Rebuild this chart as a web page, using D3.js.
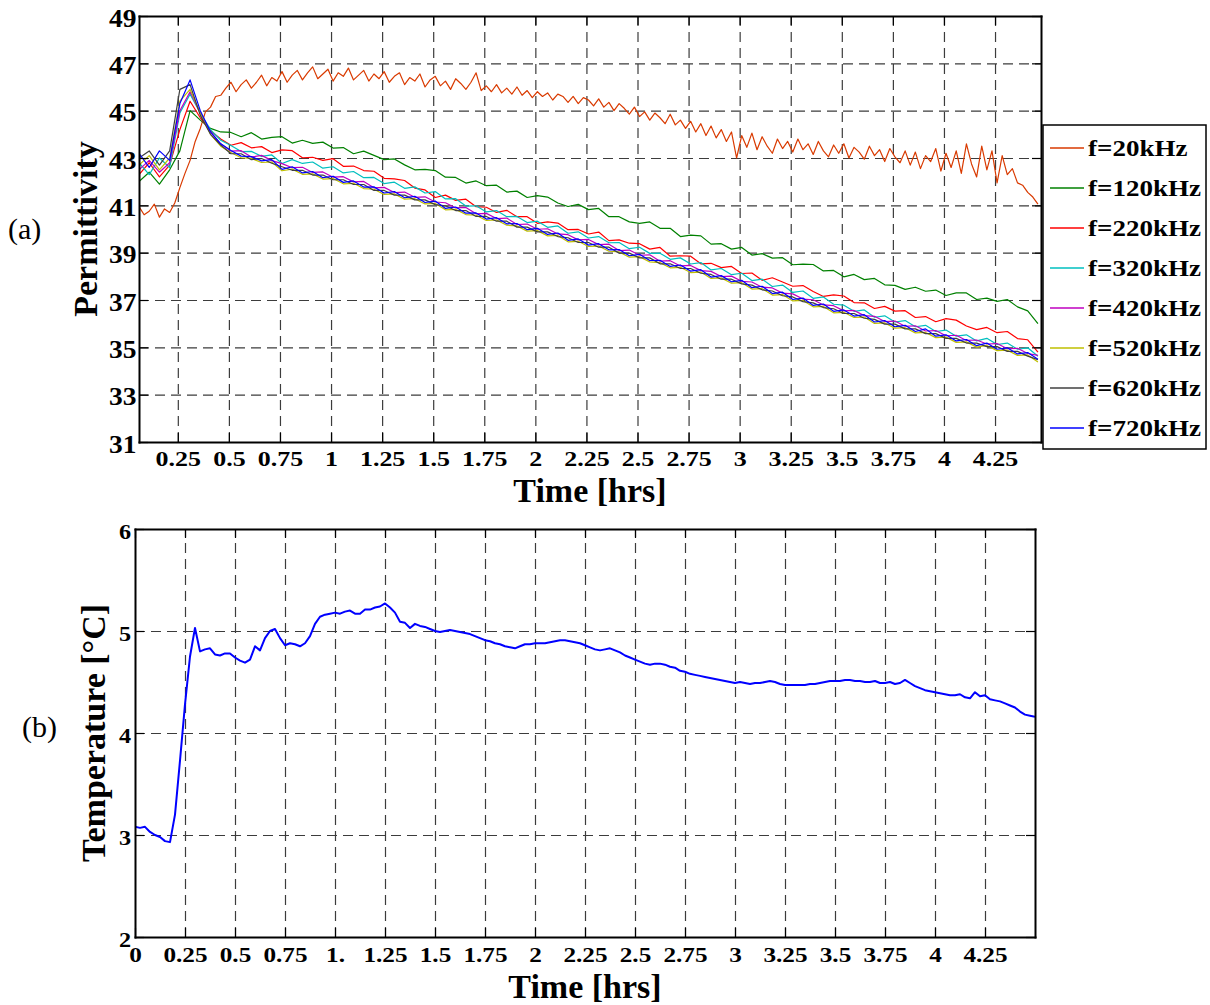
<!DOCTYPE html>
<html>
<head>
<meta charset="utf-8">
<script src="https://cdn.jsdelivr.net/npm/d3@7"></script>
<style>
  body { margin: 0; background: #fff; }
  svg { display: block; font-family: "Liberation Serif", "Times New Roman", serif; }
  .axis path { stroke: #000; stroke-width: 2; stroke-linecap: square; }
  .axis line { stroke: #000; stroke-width: 1.2; }
  .axis text { font-family: "Liberation Serif", serif; font-weight: bold; fill: #000; }
  .grid line { stroke: #3c3c3c; stroke-width: 1.2; stroke-dasharray: 10 6; }
  .grid path { display: none; }
  .title { font-weight: bold; font-size: 34px; }
  .panel-tag { font-size: 30px; }
</style>
</head>
<body>
<svg id="chart" width="1210" height="1005"></svg>
<script>
// ---------- (a) permittivity, one sample every 0.05 h from 0.06 h (20 kHz: every 0.025 h)
const permStart = 0.06;
const permStep = 0.05;
const permStep20 = 0.025;

const freqLabels = ["f=20kHz", "f=120kHz", "f=220kHz", "f=320kHz", "f=420kHz", "f=520kHz", "f=620kHz", "f=720kHz"];
const freqColors = ["#d93a00", "#008000", "#ff0000", "#00bfbf", "#bf00bf", "#bfbf00", "#404040", "#0000ff"];

const perm20 = [
  40.95, 40.6, 40.75, 41.05, 40.5, 40.85, 40.7, 41.1,
  41.75, 42.35, 42.9, 43.7, 44.25, 44.95, 45.15, 45.6, 45.65, 45.95,
  46.2, 45.8, 46.1, 46.3, 45.95, 46.2, 46.5, 46.05, 46.4, 46.25, 46.65, 46.2, 46.5, 46.7,
  46.3, 46.6, 46.85, 46.35, 46.55, 46.75, 46.25, 46.6, 46.45, 46.8, 46.3, 46.5, 46.7, 46.25, 46.55, 46.35,
  46.65, 46.2, 46.45, 46.6, 46.1, 46.4, 46.25, 46.55, 46.0, 46.3, 46.45, 46.05, 46.25, 45.9, 46.35, 46.15,
  45.9, 46.2, 46.6, 45.85, 46.05, 45.8, 46.1, 45.75, 45.95, 45.7, 46.0, 45.65, 45.85, 45.55, 45.8, 45.6,
  45.75, 45.45, 45.7, 45.6, 45.35, 45.6, 45.3, 45.55, 45.45, 45.2, 45.5, 45.15, 45.35, 45.0, 45.3, 45.1,
  44.85, 45.15, 44.75, 44.95, 44.6, 44.9, 44.7, 44.45, 44.85, 44.4, 44.6, 44.25, 44.55, 44.1, 44.45, 43.95,
  44.35, 43.85, 44.2, 43.7, 44.1, 43.0, 43.95, 43.45, 44.05, 43.35, 43.9, 43.5, 43.2, 43.8, 43.4, 43.7,
  43.25, 43.8, 43.35, 43.6, 43.15, 43.7, 43.3, 43.05, 43.55, 43.2, 43.6, 43.0, 43.45, 43.25, 42.95, 43.5,
  43.1, 43.35, 42.85, 43.4, 43.05, 42.8,
  43.3, 42.7, 43.25, 42.55, 43.1, 42.85, 43.4, 42.45, 43.2, 42.6, 43.3, 42.35, 43.6, 42.75, 42.2, 43.5,
  42.5, 43.3, 41.95, 43.1,
  42.3, 42.55, 41.95, 41.85, 41.55, 41.35, 41.05
];

const perm120 = [
  42.0, 42.4, 41.9, 42.5, 43.3, 45.0, 44.6, 44.25, 44.1,
  44.08, 43.90, 44.07, 43.80, 43.87, 43.90, 43.63, 43.75, 43.62, 43.67,
  43.42, 43.44, 43.18, 43.29, 43.11, 42.93, 42.96, 42.71, 42.50, 42.52,
  42.47, 42.19, 42.18, 41.94, 42.03, 41.83, 41.85, 41.56, 41.60, 41.33,
  41.41, 41.35, 41.10, 40.95, 41.04, 40.82, 40.87, 40.52, 40.52, 40.30,
  40.24, 40.30, 40.03, 40.03, 39.68, 39.74, 39.71, 39.36, 39.38, 39.15,
  39.22, 38.90, 38.96, 38.77, 38.79, 38.49, 38.52, 38.50, 38.23, 38.25,
  37.98, 38.08, 37.86, 37.91, 37.64, 37.62, 37.45, 37.54, 37.37, 37.42,
  37.19, 37.30, 37.30, 37.02, 37.08, 36.94, 37.02, 36.71, 36.54, 36.0
];

const perm220 = [
  42.3, 42.8, 42.2, 42.7, 44.2, 45.4, 44.7, 44.15, 43.8,
  43.54, 43.65, 43.43, 43.48, 43.23, 43.34, 43.31, 43.01, 43.03, 42.90,
  42.97, 42.65, 42.66, 42.47, 42.44, 42.14, 42.12, 42.05, 41.73, 41.65,
  41.33, 41.43, 41.21, 41.26, 40.94, 40.92, 40.70, 40.79, 40.52, 40.52,
  40.24, 40.30, 40.25, 39.97, 39.98, 39.79, 39.87, 39.51, 39.54, 39.40,
  39.38, 39.15, 39.22, 38.85, 38.87, 38.85, 38.53, 38.55, 38.37, 38.42,
  38.12, 38.14, 37.83, 37.94, 37.76, 37.58, 37.61, 37.36, 37.15, 37.22,
  37.17, 36.89, 36.88, 36.64, 36.73, 36.53, 36.55, 36.26, 36.30, 36.08,
  36.21, 36.15, 35.90, 35.75, 35.84, 35.62, 35.67, 35.37, 35.32, 34.8
];

const perm320 = [
  42.8, 42.3, 43.0, 42.6, 44.9, 45.7, 44.9, 44.2, 43.75,
  43.53, 43.27, 43.28, 43.07, 43.13, 42.77, 42.93, 42.77, 42.83, 42.57,
  42.63, 42.37, 42.43, 42.17, 42.18, 41.92, 41.98, 41.72, 41.78, 41.52,
  41.58, 41.27, 41.28, 40.97, 40.98, 40.72, 40.78, 40.52, 40.53, 40.27,
  40.33, 40.07, 40.13, 39.82, 39.88, 39.62, 39.68, 39.42, 39.43, 39.17,
  39.23, 38.97, 38.98, 38.72, 38.78, 38.52, 38.58, 38.27, 38.33, 38.07,
  38.13, 37.82, 37.88, 37.57, 37.63, 37.32, 37.38, 37.07, 37.13, 36.82,
  36.78, 36.52, 36.58, 36.27, 36.33, 36.07, 36.13, 35.87, 35.93, 35.67,
  35.73, 35.47, 35.53, 35.27, 35.38, 35.12, 35.18, 34.92, 34.98, 34.62
];

const perm420 = [
  42.5, 42.9, 42.4, 42.8, 45.0, 45.8, 44.9, 44.1, 43.6,
  43.29, 43.31, 43.04, 43.11, 42.89, 42.76, 42.59, 42.61, 42.39, 42.41,
  42.19, 42.21, 41.99, 42.01, 41.74, 41.76, 41.54, 41.56, 41.34, 41.36,
  41.14, 41.11, 40.89, 40.91, 40.64, 40.66, 40.44, 40.46, 40.19, 40.21,
  39.99, 40.01, 39.79, 39.76, 39.54, 39.56, 39.34, 39.36, 39.09, 39.11,
  38.89, 38.91, 38.64, 38.66, 38.44, 38.46, 38.24, 38.21, 37.99, 38.01,
  37.79, 37.76, 37.54, 37.51, 37.29, 37.26, 37.04, 37.01, 36.79, 36.76,
  36.54, 36.56, 36.34, 36.31, 36.09, 36.11, 35.89, 35.91, 35.69, 35.71,
  35.49, 35.51, 35.29, 35.31, 35.14, 35.16, 34.94, 34.96, 34.74, 34.66
];

const perm520 = [
  42.7, 43.1, 42.5, 43.0, 45.4, 45.9, 44.9, 44.0, 43.5,
  43.23, 43.01, 42.98, 42.81, 42.83, 42.46, 42.53, 42.31, 42.33, 42.11,
  42.13, 41.91, 41.93, 41.71, 41.68, 41.46, 41.48, 41.26, 41.28, 41.06,
  41.08, 40.81, 40.83, 40.61, 40.58, 40.36, 40.38, 40.16, 40.13, 39.91,
  39.93, 39.71, 39.73, 39.46, 39.48, 39.26, 39.28, 39.06, 39.03, 38.81,
  38.83, 38.61, 38.58, 38.36, 38.38, 38.16, 38.18, 37.91, 37.93, 37.71,
  37.73, 37.46, 37.48, 37.21, 37.23, 36.96, 36.98, 36.71, 36.73, 36.46,
  36.48, 36.26, 36.28, 36.01, 36.03, 35.81, 35.83, 35.61, 35.63, 35.41,
  35.43, 35.21, 35.23, 35.01, 35.08, 34.86, 34.88, 34.66, 34.68, 34.38
];

const perm620 = [
  43.0, 43.3, 42.7, 43.3, 45.9, 46.1, 44.8, 44.0, 43.55,
  43.18, 43.18, 42.93, 42.98, 42.78, 42.63, 42.48, 42.48, 42.28, 42.28,
  42.08, 42.08, 41.88, 41.88, 41.63, 41.63, 41.43, 41.43, 41.23, 41.23,
  41.03, 40.98, 40.78, 40.78, 40.53, 40.53, 40.33, 40.33, 40.08, 40.08,
  39.88, 39.88, 39.68, 39.63, 39.43, 39.43, 39.23, 39.23, 38.98, 38.98,
  38.78, 38.78, 38.53, 38.53, 38.33, 38.33, 38.13, 38.08, 37.88, 37.88,
  37.68, 37.63, 37.43, 37.38, 37.18, 37.13, 36.93, 36.88, 36.68, 36.63,
  36.43, 36.43, 36.23, 36.18, 35.98, 35.98, 35.78, 35.78, 35.58, 35.58,
  35.38, 35.38, 35.18, 35.18, 35.03, 35.03, 34.83, 34.83, 34.63, 34.48
];

const perm720 = [
  43.2, 42.6, 43.3, 42.9, 45.3, 46.3, 45.0, 44.1, 43.6,
  43.32, 43.08, 43.06, 42.88, 42.93, 42.52, 42.63, 42.37, 42.43, 42.17,
  42.23, 41.97, 42.03, 41.77, 41.78, 41.52, 41.58, 41.32, 41.38, 41.12,
  41.18, 40.87, 40.93, 40.67, 40.68, 40.42, 40.48, 40.22, 40.23, 39.97,
  40.03, 39.77, 39.83, 39.52, 39.58, 39.32, 39.38, 39.12, 39.13, 38.87,
  38.93, 38.67, 38.68, 38.42, 38.48, 38.22, 38.28, 37.97, 38.03, 37.77,
  37.83, 37.52, 37.58, 37.27, 37.33, 37.02, 37.08, 36.77, 36.83, 36.52,
  36.58, 36.32, 36.38, 36.07, 36.13, 35.87, 35.93, 35.67, 35.78, 35.47,
  35.53, 35.27, 35.33, 35.07, 35.18, 34.92, 34.98, 34.72, 34.78, 34.5
];

const permTicksX = [0.25, 0.5, 0.75, 1, 1.25, 1.5, 1.75, 2, 2.25, 2.5, 2.75, 3, 3.25, 3.5, 3.75, 4, 4.25];
const permTickLabelsX = ["0.25", "0.5", "0.75", "1", "1.25", "1.5", "1.75", "2", "2.25", "2.5", "2.75", "3", "3.25", "3.5", "3.75", "4", "4.25"];
const permTicksY = [31, 33, 35, 37, 39, 41, 43, 45, 47, 49];

// ---------- (b) temperature, one sample every 0.025 h from 0 h
const tempStart = 0;
const tempStep = 0.025;
const temperature = [
  3.08, 3.07, 3.08, 3.03, 3.00, 2.98, 2.94, 2.93,
  3.20, 3.73, 4.28, 4.75, 5.03, 4.80, 4.82, 4.83,
  4.77, 4.76, 4.78, 4.78, 4.74, 4.71, 4.69, 4.72,
  4.85, 4.81, 4.93, 5.00, 5.02, 4.93, 4.86, 4.88,
  4.87, 4.85, 4.88, 4.95, 5.07, 5.14, 5.16, 5.17,
  5.18, 5.17, 5.19, 5.20, 5.17, 5.17, 5.21, 5.21,
  5.23, 5.24, 5.27, 5.23, 5.18, 5.09, 5.08, 5.03,
  5.07, 5.05, 5.04, 5.02, 5.00, 4.99, 5.00, 5.01,
  5.00, 4.99, 4.98, 4.97, 4.95, 4.93, 4.91, 4.90,
  4.88, 4.87, 4.85, 4.84, 4.83, 4.85, 4.87, 4.87,
  4.88, 4.88, 4.88, 4.89, 4.90, 4.91, 4.91, 4.90,
  4.89, 4.88, 4.86, 4.84, 4.82, 4.81, 4.82, 4.83,
  4.81, 4.79, 4.76, 4.74, 4.72, 4.70, 4.68, 4.67,
  4.68, 4.68, 4.67, 4.65, 4.64, 4.61, 4.60, 4.58,
  4.57, 4.56, 4.55, 4.54, 4.53, 4.52, 4.51, 4.50,
  4.49, 4.50, 4.49, 4.48, 4.49, 4.49, 4.50, 4.51,
  4.50, 4.48, 4.47, 4.47, 4.47, 4.47, 4.47, 4.48,
  4.48, 4.49, 4.50, 4.51, 4.51, 4.51, 4.52, 4.52,
  4.51, 4.51, 4.50, 4.50, 4.51, 4.49, 4.49, 4.50,
  4.48, 4.49, 4.52, 4.49, 4.46, 4.44, 4.42, 4.41,
  4.40, 4.39, 4.38, 4.37, 4.37, 4.38, 4.35, 4.34,
  4.40, 4.36, 4.37, 4.33, 4.32, 4.31, 4.29, 4.27,
  4.25, 4.21, 4.18, 4.17, 4.16
];

const tempTicksX = [0, 0.25, 0.5, 0.75, 1, 1.25, 1.5, 1.75, 2, 2.25, 2.5, 2.75, 3, 3.25, 3.5, 3.75, 4, 4.25];
const tempTickLabelsX = ["0", "0.25", "0.5", "0.75", "1.", "1.25", "1.5", "1.75", "2", "2.25", "2.5", "2.75", "3", "3.25", "3.5", "3.75", "4", "4.25"];
const tempTicksY = [2, 3, 4, 5, 6];

// ---------------------------------------------------------------
const svg = d3.select("#chart");

// the source figure's lettering is a little wider than Liberation Serif
function stretch(sel, k) {
  sel.each(function () {
    const w = this.getComputedTextLength();
    d3.select(this).attr("textLength", w * k).attr("lengthAdjust", "spacingAndGlyphs");
  });
}

function drawFrame(x, y, cfg) {
  const [x0, x1] = x.range();
  const [y0, y1] = y.range();
  const w = x1 - x0, h = y0 - y1;
  const g = svg.append("g");

  g.append("g").attr("class", "grid").attr("transform", `translate(0,${y0})`)
    .call(d3.axisBottom(x).tickValues(cfg.xTicks.filter(t => x(t) > x0 + 1)).tickSize(-h).tickFormat(""));
  g.append("g").attr("class", "grid").attr("transform", `translate(${x0},0)`)
    .call(d3.axisLeft(y).tickValues(cfg.yTicks.slice(1, -1)).tickSize(-w).tickFormat(""));

  const plot = g.append("g").attr("clip-path", `url(#${cfg.clipId})`);
  svg.append("clipPath").attr("id", cfg.clipId)
    .append("rect").attr("x", x0).attr("y", y1).attr("width", w).attr("height", h);

  const bottom = g.append("g").attr("class", "axis").attr("transform", `translate(0,${y0})`)
    .call(d3.axisBottom(x).tickValues(cfg.xTicks).tickSizeInner(-9).tickSizeOuter(0)
      .tickFormat((d, i) => cfg.xLabels[i]));
  bottom.attr("font-size", null).attr("font-family", null);
  bottom.selectAll("text").attr("y", cfg.xLabelY).attr("dy", null)
    .style("font-size", cfg.xFont + "px").call(stretch, cfg.xStretch);

  const left = g.append("g").attr("class", "axis").attr("transform", `translate(${x0},0)`)
    .call(d3.axisLeft(y).tickValues(cfg.yTicks).tickSizeInner(-9).tickSizeOuter(0).tickFormat(d3.format("d")));
  left.attr("font-size", null).attr("font-family", null);
  left.selectAll("text").attr("x", -cfg.yLabelGap).attr("y", cfg.yLabelDy).attr("dy", null)
    .style("font-size", cfg.yFont + "px").call(stretch, cfg.yStretch);

  g.append("g").attr("class", "axis").attr("transform", `translate(0,${y1})`)
    .call(d3.axisTop(x).tickValues(cfg.xTicks).tickSizeInner(-9).tickSizeOuter(0).tickFormat(""));
  g.append("g").attr("class", "axis").attr("transform", `translate(${x1},0)`)
    .call(d3.axisRight(y).tickValues(cfg.yTicks).tickSizeInner(-9).tickSizeOuter(0).tickFormat(""));

  return plot;
}

// ---------- panel (a)
const xA = d3.scaleLinear().domain([0.06, 4.475]).range([139, 1041]);
const yA = d3.scaleLinear().domain([31, 49]).range([442, 16]);

const permSeries = [perm20, perm120, perm220, perm320, perm420, perm520, perm620, perm720].map((values, i) => ({
  label: freqLabels[i],
  color: freqColors[i],
  step: i === 0 ? permStep20 : permStep,
  values
}));

const plotA = drawFrame(xA, yA, {
  clipId: "clip-a", xTicks: permTicksX, xLabels: permTickLabelsX, yTicks: permTicksY,
  xLabelY: 24, xFont: 22, xStretch: 1.18, yLabelGap: 2.5, yLabelDy: 10, yFont: 25, yStretch: 1.1
});

plotA.selectAll("path.perm")
  .data(permSeries)
  .join("path")
  .attr("class", "perm")
  .attr("fill", "none")
  .attr("stroke", d => d.color)
  .attr("stroke-width", 1.2)
  .attr("stroke-linejoin", "round")
  .attr("d", d => d3.line().x((v, i) => xA(permStart + i * d.step)).y(v => yA(v))(d.values));

// legend
const legend = svg.append("g");
legend.append("rect")
  .attr("x", 1043).attr("y", 125).attr("width", 163).attr("height", 324)
  .attr("fill", "#fff").attr("stroke", "#000").attr("stroke-width", 1.5);
const rows = legend.selectAll("g.row")
  .data(permSeries)
  .join("g")
  .attr("class", "row")
  .attr("transform", (d, i) => `translate(0,${148 + 40 * i})`);
rows.append("line")
  .attr("x1", 1050).attr("x2", 1084)
  .attr("stroke", d => d.color).attr("stroke-width", 1.3);
rows.append("text")
  .attr("x", 1088).attr("y", 8)
  .style("font-size", "22.5px").style("font-weight", "bold")
  .text(d => d.label)
  .call(stretch, 1.2);

svg.append("text").attr("class", "title")
  .attr("x", (xA.range()[0] + xA.range()[1]) / 2).attr("y", 502)
  .attr("text-anchor", "middle").text("Time [hrs]");
svg.append("text").attr("class", "title")
  .attr("transform", "translate(97,229) rotate(-90)")
  .attr("text-anchor", "middle").text("Permittivity");
svg.append("text").attr("class", "panel-tag").attr("x", 8).attr("y", 239).text("(a)");

// ---------- panel (b)
const xB = d3.scaleLinear().domain([0, 4.5]).range([135, 1035]);
const yB = d3.scaleLinear().domain([2, 6]).range([937, 529]);

const plotB = drawFrame(xB, yB, {
  clipId: "clip-b", xTicks: tempTicksX, xLabels: tempTickLabelsX, yTicks: tempTicksY,
  xLabelY: 25, xFont: 21, xStretch: 1.2, yLabelGap: 4, yLabelDy: 9.5, yFont: 22, yStretch: 1.1
});

plotB.append("path")
  .datum(temperature)
  .attr("fill", "none")
  .attr("stroke", "#0000ff")
  .attr("stroke-width", 2)
  .attr("stroke-linejoin", "round")
  .attr("d", d3.line().x((v, i) => xB(tempStart + i * tempStep)).y(v => yB(v)));

svg.append("text").attr("class", "title")
  .attr("x", (xB.range()[0] + xB.range()[1]) / 2).attr("y", 998)
  .attr("text-anchor", "middle").text("Time [hrs]");
svg.append("text").attr("class", "title")
  .attr("transform", "translate(105,733) rotate(-90)")
  .attr("text-anchor", "middle").text("Temperature [°C]");
svg.append("text").attr("class", "panel-tag").attr("x", 22).attr("y", 737).text("(b)");
</script>
</body>
</html>
